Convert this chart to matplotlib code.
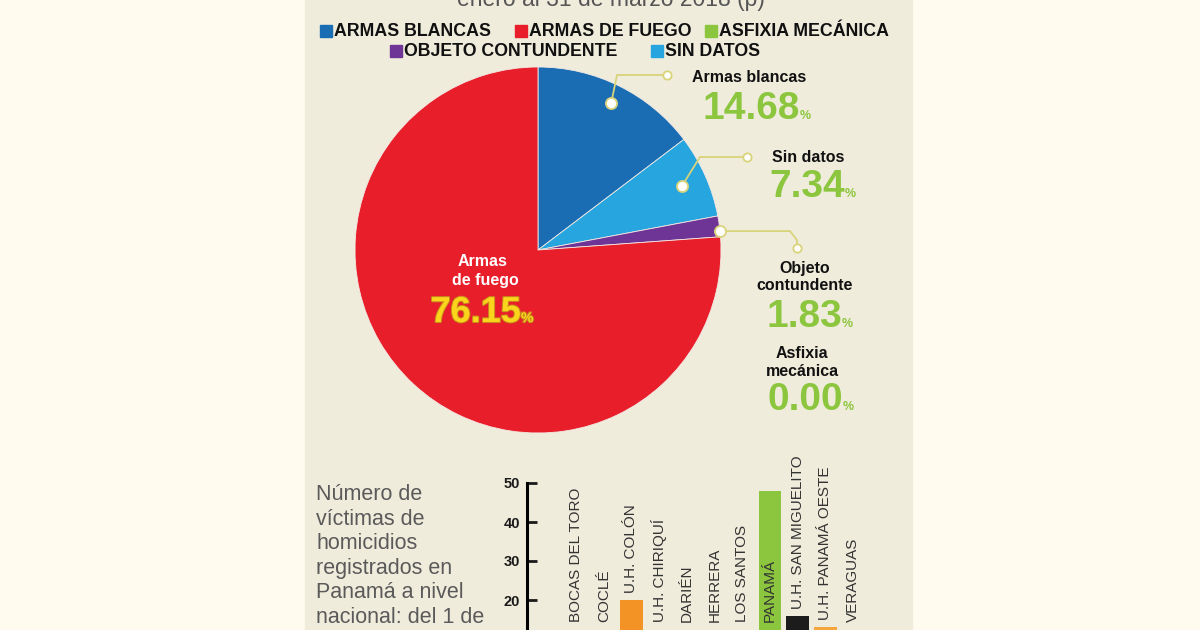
import numpy as np
import matplotlib
matplotlib.use("Agg")
import matplotlib.pyplot as plt
from matplotlib.patches import Rectangle
import matplotlib.patheffects as pe

plt.rcParams["font.family"] = ["Liberation Sans", "DejaVu Sans"]

# pie data (percent of victims by weapon type)
pie_labels = ["Armas blancas", "Sin datos", "Objeto contundente", "Armas de fuego", "Asfixia mecánica"]
pie_values = [14.68, 7.34, 1.83, 76.15, 0.00]
pie_colors = ["#1a6db3", "#27a5de", "#6e3596", "#e81f2a", "#8cc63e"]

legend_names = ["ARMAS BLANCAS", "ARMAS DE FUEGO", "ASFIXIA MECÁNICA", "OBJETO CONTUNDENTE", "SIN DATOS"]
legend_colors = ["#1a6db3", "#e81f2a", "#8cc63e", "#6e3596", "#27a5de"]

# bar data (victims per police zone)
regions = ["BOCAS DEL TORO", "COCLÉ", "U.H. COLÓN", "U.H. CHIRIQUÍ", "DARIÉN", "HERRERA",
           "LOS SANTOS", "PANAMÁ", "U.H. SAN MIGUELITO", "U.H. PANAMÁ OESTE", "VERAGUAS"]
victims = [3, 2, 20, 4, 1, 0, 1, 48, 16, 13, 1]
bar_colors = ["#f39325", "#f39325", "#f39325", "#f39325", "#f39325", "#f39325",
              "#f39325", "#8cc63e", "#1c1c1c", "#f6a43c", "#f39325"]
yticks = [0, 10, 20, 30, 40, 50]

W, H = 1200, 630
fig = plt.figure(figsize=(12, 6.3), dpi=100, facecolor="#fffbee")

ov = fig.add_axes([0, 0, 1, 1], zorder=0)
ov.set_facecolor("none")


def Y(y):
    return H - y


ov.add_patch(Rectangle((305, 0), 607, H, color="#f0ecdc", zorder=0))

# cut-off subtitle
ov.text(611, Y(6), "enero al 31 de marzo 2018 (p)", ha="center", va="baseline",
        fontsize=16.5, color="#555555")

# legend
leg_pos = [(320, 31), (515, 31), (705, 31), (390, 51), (651, 51)]
for (lx, ly), name, col in zip(leg_pos, legend_names, legend_colors):
    ov.add_patch(Rectangle((lx, Y(ly) - 6), 12, 12, color=col, zorder=3))
    ov.text(lx + 14, Y(ly), name, ha="left", va="center", fontsize=12.8,
            fontweight="bold", color="#111111")

# pie
cx, cy, R = 538, 250, 183
vals = [v for v in pie_values if v > 0]
cols = [c for v, c in zip(pie_values, pie_colors) if v > 0]
ov.pie(vals, colors=cols, startangle=90, counterclock=False, center=(cx, Y(cy)),
       radius=R, wedgeprops=dict(edgecolor="#f3e9e4", linewidth=0.6), frame=True)

# mid angles for the leader dots
ang = 90 - (np.cumsum(pie_values) - np.array(pie_values) / 2) * 3.6
line_c = "#d9d37a"


def dot(x, y, s=7):
    ov.plot(x, y, "o", ms=s, mfc="white", mec=line_c, mew=1.3, zorder=6)


def leader(i, rr, pts, da=0.0):
    a = np.radians(ang[i] + da)
    x0, y0 = cx + rr * R * np.cos(a), Y(cy) + rr * R * np.sin(a)
    xs = [x0] + [p[0] for p in pts]
    ys = [y0] + [y0 if p[1] is None else Y(p[1]) for p in pts]
    ov.plot(xs, ys, color=line_c, lw=1.3, zorder=5)
    dot(x0, y0, 8)
    dot(xs[-1], ys[-1], 6)


leader(0, 0.90, [(617, 75), (667, 75)])
leader(1, 0.86, [(700, 157), (747, 157)])
leader(2, 1.0, [(790, None), (797, 240), (797, 248)], da=-1.5)

# inner label for Armas de fuego
ov.text(483, Y(261), "Armas", ha="center", va="center", fontsize=11.5,
        fontweight="bold", color="white")
ov.text(485, Y(281), "de fuego", ha="center", va="center", fontsize=11.5,
        fontweight="bold", color="white")
stroke = [pe.withStroke(linewidth=1.5, foreground="#c98a1c")]
ov.text(521, Y(322), "%.2f" % pie_values[3], ha="right", va="baseline", fontsize=26,
        fontweight="bold", color="#fbd51c", path_effects=stroke)
ov.text(521, Y(322), "%", ha="left", va="baseline", fontsize=10,
        fontweight="bold", color="#fbd51c", path_effects=stroke)

# right-hand annotations
green = "#8cc63e"
ann = [
    (0, ["Armas blancas"], 749, [77], 800, 119),
    (1, ["Sin datos"], 808, [158], 845, 197),
    (2, ["Objeto", "contundente"], 805, [268, 286], 842, 327),
    (4, ["Asfixia", "mecánica"], 802, [353, 372], 843, 410),
]
for i, lines, tx, tys, nx, ny in ann:
    for ln, ty in zip(lines, tys):
        ov.text(tx, Y(ty), ln, ha="center", va="center", fontsize=11.5,
                fontweight="bold", color="#111111")
    ov.text(nx, Y(ny), "%.2f" % pie_values[i], ha="right", va="baseline",
            fontsize=28, fontweight="bold", color=green)
    ov.text(nx, Y(ny), "%", ha="left", va="baseline", fontsize=9,
            fontweight="bold", color=green)

# left description of bar chart
desc = ["Número de", "víctimas de", "homicidios", "registrados en",
        "Panamá a nivel", "nacional: del 1 de"]
for k, ln in enumerate(desc):
    ov.text(316, Y(500 + k * 24.6), ln, ha="left", va="baseline", fontsize=15.5,
            color="#5a5a5a")

ov.set_xlim(0, W)
ov.set_ylim(0, H)
ov.set_aspect("auto")
ov.axis("off")

# bar chart (bottom is cropped by the figure edge)
left_px, right_px, top_px, zero_px = 527, 880, 483, 678
bx = fig.add_axes([left_px / W, 1 - zero_px / H, (right_px - left_px) / W,
                   (zero_px - top_px) / H], zorder=1)
bx.set_facecolor("none")
xpos = np.arange(len(regions))
bx.bar(xpos, victims, width=0.83, color=bar_colors, zorder=2)
bx.set_xlim(-1.77, 10.97)
bx.set_ylim(0, 50)
bx.set_yticks(yticks)
bx.set_xticks([])
for s in ["top", "right", "bottom"]:
    bx.spines[s].set_visible(False)
bx.spines["left"].set_linewidth(2.2)
bx.tick_params(axis="y", direction="in", length=7, width=2, pad=5, labelsize=10.5,
               colors="#1a1a1a")
for t in bx.get_yticklabels():
    t.set_fontweight("bold")

# names sit on a common floor; mid-height bars carry them on top,
# the tall Panamá bar holds its name inside
floor = 14.4
for x, v, name in zip(xpos, victims, regions):
    base = v + 1.8 if floor < v + 1.8 < 30 else floor
    bx.text(x, base, name, rotation=90, ha="center", va="bottom", fontsize=11,
            color="#333333", family=["Liberation Sans Narrow", "Liberation Sans", "DejaVu Sans"],
            clip_on=False, zorder=3)

fig.savefig("out.png", dpi=100, facecolor=fig.get_facecolor())
